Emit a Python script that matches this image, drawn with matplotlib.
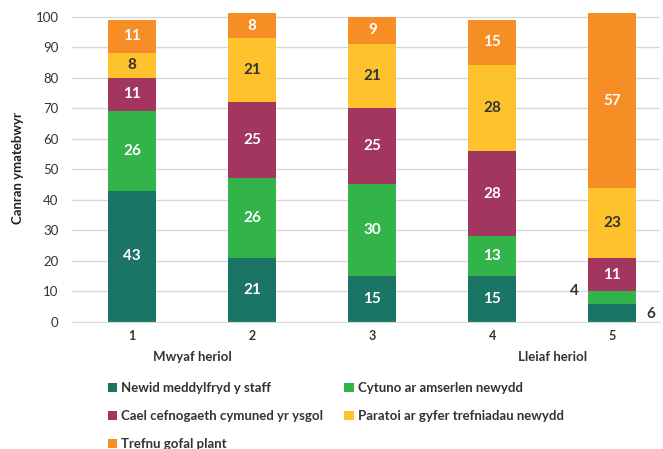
import numpy as np
import matplotlib.pyplot as plt

plt.rcParams['font.family'] = ['Lato', 'DejaVu Sans']

categories = ['1', '2', '3', '4', '5']
series_names = ['Newid meddylfryd y staff', 'Cytuno ar amserlen newydd',
                'Cael cefnogaeth cymuned yr ysgol', 'Paratoi ar gyfer trefniadau newydd',
                'Trefnu gofal plant']
newid = [43, 21, 15, 15, 6]
cytuno = [26, 26, 30, 13, 4]
cael = [11, 25, 25, 28, 11]
paratoi = [8, 21, 21, 28, 23]
trefnu = [11, 8, 9, 15, 57]

colors = ['#1a7566', '#33b44a', '#a3365f', '#fdc22c', '#f68d25']
label_colors = ['white', 'white', 'white', '#333333', 'white']

fig = plt.figure(figsize=(6.63, 4.49), dpi=100)
ax = fig.add_axes([0.109, 0.283, 0.887, 0.687])

x = np.arange(len(categories))
bottom = np.zeros(len(categories))
for vals, name, col, lc in zip([newid, cytuno, cael, paratoi, trefnu], series_names, colors, label_colors):
    vals = np.array(vals)
    ax.bar(x, vals, 0.4, bottom=bottom, color=col, label=name, zorder=2)
    for i, v in enumerate(vals):
        yc = bottom[i] + v / 2
        if v < 8:
            # small segments labelled outside the bar
            if name == series_names[0]:
                ax.text(x[i] + 0.28, bottom[i] + 2.5, str(v), ha='left', va='center',
                        fontsize=11, fontweight='bold', color='#333333')
            else:
                ax.text(x[i] - 0.28, yc + 2, str(v), ha='right', va='center',
                        fontsize=11, fontweight='bold', color='#333333')
        else:
            ax.text(x[i], yc, str(v), ha='center', va='center',
                    fontsize=11, fontweight='bold', color=lc)
    bottom += vals

ax.set_xlim(-0.5, 4.4)
ax.set_ylim(0, 101)
ax.set_yticks(np.arange(0, 101, 10))
ax.set_xticks(x)
ax.set_xticklabels(categories, fontsize=9, fontweight='bold', color='#333333')
ax.tick_params(axis='y', labelsize=9.5, colors='#333333', length=0, pad=10)
ax.tick_params(axis='x', length=0, pad=6)
ax.grid(axis='y', color='#d9d9d9', linewidth=1, zorder=0)
for s in ['top', 'right', 'left']:
    ax.spines[s].set_visible(False)
ax.spines['bottom'].set_color('#d9d9d9')
ax.set_ylabel('Canran ymatebwyr', fontsize=9.5, fontweight='bold', color='#222222', labelpad=8)

ax.text(0.5, -0.115, 'Mwyaf heriol', transform=ax.get_xaxis_transform(), ha='center',
        va='center', fontsize=9.5, fontweight='bold', color='#333333')
ax.text(3.5, -0.115, 'Lleiaf heriol', transform=ax.get_xaxis_transform(), ha='center',
        va='center', fontsize=9.5, fontweight='bold', color='#333333')

# row-major order for the two-column legend
handles, labels = ax.get_legend_handles_labels()
order = [0, 2, 4, 1, 3]
fig.legend([handles[i] for i in order], [labels[i] for i in order],
           loc='upper left', bbox_to_anchor=(0.145, 0.175), ncol=2,
           frameon=False, handlelength=0.7, handleheight=0.7,
           handletextpad=0.3, columnspacing=1.6, labelspacing=1.2,
           prop={'weight': 'bold', 'size': 9.5})
for t in fig.legends[0].get_texts():
    t.set_color('#333333')

fig.savefig('out.png', dpi=100)
